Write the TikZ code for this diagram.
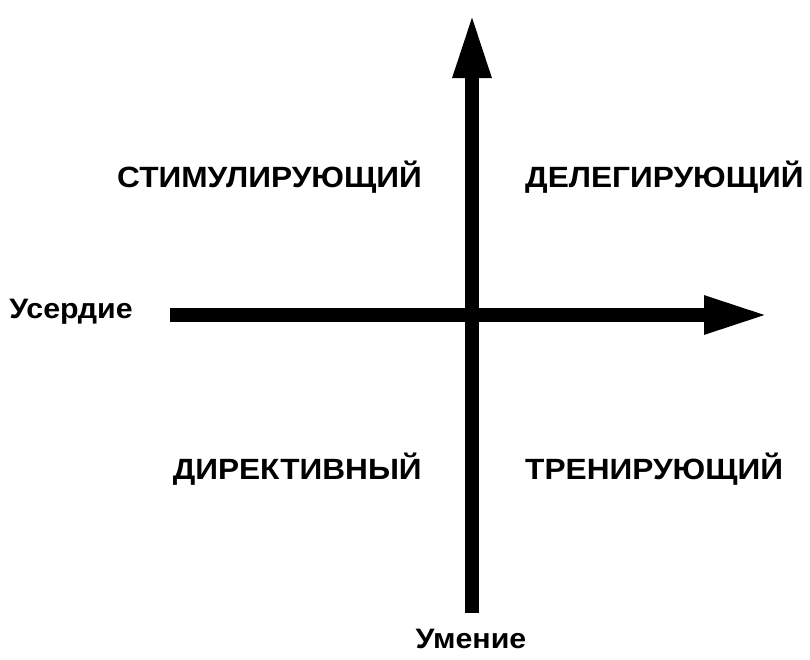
\documentclass[tikz,border=0pt]{standalone}
\usepackage{fontspec}
\setmainfont[FakeStretch=1.08]{Liberation Sans}
\usetikzlibrary{arrows.meta}

\tikzset{
  axis/.style={line width=0.42cm, -{Triangle[length=1.95cm,width=1.05cm]}},
  quadrant/.style={font=\bfseries\fontsize{25}{30}\selectfont, inner sep=0pt},
  axislabel/.style={font=\bfseries\fontsize{24}{28}\selectfont, inner sep=0pt}
}

\begin{document}
\begin{tikzpicture}[x=0.03cm, y=-0.03cm]
    \useasboundingbox (0,0) rectangle (810,659);
    % Axis end points
    \coordinate (xfrom) at (170,315);
    \coordinate (xto)   at (769,315);
    \coordinate (yfrom) at (472,613);
    \coordinate (yto)   at (472,13);
    \draw[axis] (xfrom) -- (xto);
    \draw[axis] (yfrom) -- (yto);
    % Axis names
    \node[axislabel, anchor=east] (effort) at (133,312) {Усердие};
    \node[axislabel] (skill) at (471,639) {Умение};
    % Quadrant names
    \foreach \name/\pos/\side/\txt in {stim/{(422,177)}/east/СТИМУЛИРУЮЩИЙ,
        deleg/{(525,177)}/west/ДЕЛЕГИРУЮЩИЙ,
        direct/{(422,469)}/east/ДИРЕКТИВНЫЙ,
        train/{(525,469)}/west/ТРЕНИРУЮЩИЙ} {
      \node[quadrant, anchor=\side] (\name) at \pos {\txt};
    }
\end{tikzpicture}
\end{document}
